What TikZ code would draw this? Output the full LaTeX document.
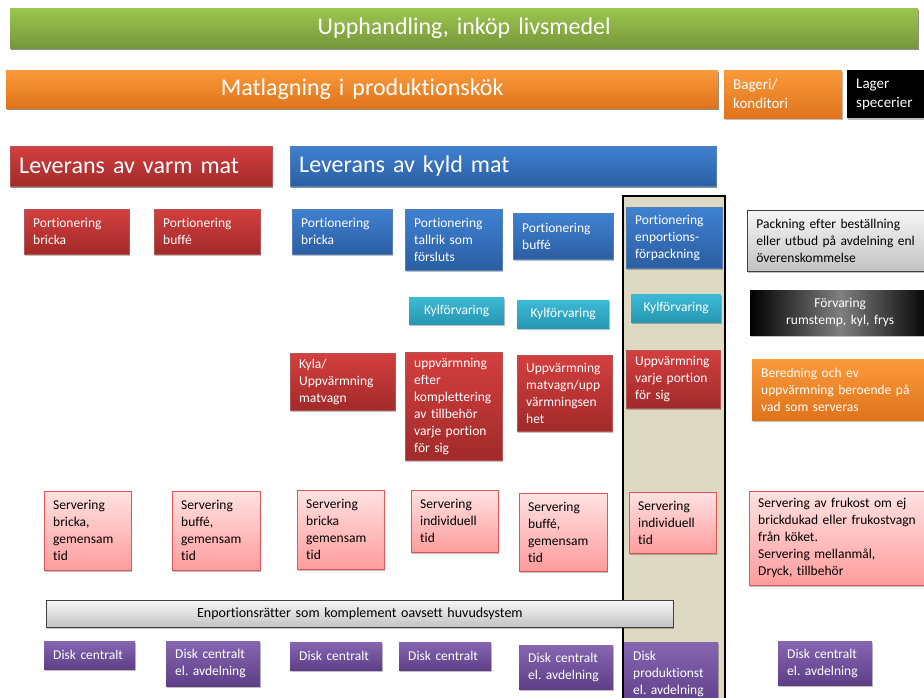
\documentclass[tikz,border=0pt]{standalone}
\usepackage{fontspec}
\setmainfont[Ligatures=NoCommon]{Carlito}
\frenchspacing
\usetikzlibrary{shadows}
\definecolor{greentop}{HTML}{9DC64E}
\definecolor{greenbot}{HTML}{76963A}
\definecolor{orangetop}{HTML}{FA9A3A}
\definecolor{orangebot}{HTML}{DF731C}
\definecolor{redtop}{HTML}{D43F3F}
\definecolor{redbot}{HTML}{A12A2A}
\definecolor{bluetop}{HTML}{3F81D2}
\definecolor{bluebot}{HTML}{2B5EA2}
\definecolor{cyantop}{HTML}{3DBAD6}
\definecolor{cyanbot}{HTML}{2797B2}
\definecolor{pinktop}{HTML}{FFE2E2}
\definecolor{pinkbot}{HTML}{FF9C9C}
\definecolor{pinkline}{HTML}{E05656}
\definecolor{purpletop}{HTML}{8666B0}
\definecolor{purplebot}{HTML}{5D3E87}
\definecolor{graytop}{HTML}{F6F6F6}
\definecolor{graybot}{HTML}{C2C2C2}
\definecolor{tan}{HTML}{DDD9C3}
\tikzset{
  font=\fontsize{13.5}{17}\selectfont,
  % Shadow under every box
  boxshadow/.style={drop shadow={shadow xshift=1pt, shadow yshift=-2pt,
      opacity=0.25, fill=black}},
  % General box, placed by its upper left corner
  box/.style={anchor=north west, inner xsep=9pt, inner ysep=1pt,
    align=left, text=white, boxshadow},
  % Wide header bars
  bar/.style={box, font=\fontsize{24}{28}\selectfont},
  % Colour variants
  greenbox/.style={box, top color=greentop, bottom color=greenbot},
  orangebox/.style={box, top color=orangetop, bottom color=orangebot},
  redbox/.style={box, top color=redtop, bottom color=redbot,
    draw=redbot!80!white, thin},
  bluebox/.style={box, top color=bluetop, bottom color=bluebot,
    draw=bluebot!80!white, thin},
  cyanbox/.style={box, top color=cyantop, bottom color=cyanbot, align=center},
  pinkbox/.style={box, top color=pinktop, bottom color=pinkbot,
    draw=pinkline, text=black},
  purplebox/.style={box, top color=purpletop, bottom color=purplebot},
  graybox/.style={box, top color=graytop, bottom color=graybot,
    draw=black!75, thick, text=black},
  blackbox/.style={box, left color=black, right color=black,
    middle color=black!50, align=center},
}

\begin{document}
\begin{tikzpicture}[x=1pt, y=-1pt]
  \useasboundingbox (0,0) rectangle (924,697);

  % column for enportions
  \draw[line width=2.5pt, fill=tan] (623,196) rectangle (725,720);

  % top bars
  \node[greenbox, bar, align=center, minimum width=908pt, minimum height=40pt,
    text width=890pt] (upphandling) at (10,8) {Upphandling, inköp livsmedel};
  \node[orangebox, bar, align=center, minimum width=712pt, minimum height=38pt,
    text width=694pt] (matlagning) at (6,70) {Matlagning i produktionskök};
  \node[orangebox, font=\fontsize{15}{19}\selectfont, minimum width=118pt,
    minimum height=48pt, text width=100pt] (bageri) at (724,70) {Bageri/\\konditori};
  \node[box, fill=black, font=\fontsize{15}{19}\selectfont, minimum width=90pt,
    minimum height=48pt, text width=72pt] (lager) at (847,70) {Lager\\specerier};

  \node[redbox, bar, minimum width=262pt, minimum height=40pt,
    text width=244pt] (varm) at (10,146) {Leverans av varm mat};
  \node[bluebox, bar, minimum width=426pt, minimum height=40pt,
    text width=408pt] (kyld) at (290,146) {Leverans av kyld mat};

  % portionering
  \node[redbox, minimum width=105pt, minimum height=45pt, text width=87pt]
    (pvbricka) at (24,209) {Portionering\\bricka};
  \node[redbox, minimum width=106pt, minimum height=45pt, text width=88pt]
    (pvbuffe) at (154,209) {Portionering\\buffé};
  \node[bluebox, minimum width=100pt, minimum height=45pt, text width=82pt]
    (pkbricka) at (292,209) {Portionering\\bricka};
  \node[bluebox, minimum width=97pt, minimum height=61pt, text width=79pt]
    (pktallrik) at (405,209) {Portionering\\tallrik som\\försluts};
  \node[bluebox, minimum width=100pt, minimum height=46pt, text width=82pt]
    (pkbuffe) at (513,213) {Portionering\\buffé};
  \node[bluebox, minimum width=96pt, minimum height=61pt, text width=78pt]
    (pkenport) at (626,207) {Portionering\\enportions-\\förpackning};
  \node[graybox, minimum width=190pt, minimum height=61pt, text width=172pt]
    (packning) at (747,210)
    {Packning efter beställning\\eller utbud på avdelning enl\\överenskommelse};

  % förvaring
  \node[cyanbox, minimum width=95pt, minimum height=27pt, text width=77pt]
    (kyl1) at (409,297) {Kylförvaring};
  \node[cyanbox, minimum width=92pt, minimum height=28pt, text width=74pt]
    (kyl2) at (517,300) {Kylförvaring};
  \node[cyanbox, minimum width=90pt, minimum height=28pt, text width=72pt]
    (kyl3) at (631,294) {Kylförvaring};
  \node[blackbox, minimum width=180pt, minimum height=45pt, text width=162pt]
    (forvaring) at (750,290) {Förvaring\\rumstemp, kyl, frys};

  % uppvärmning
  \node[redbox, minimum width=105pt, minimum height=57pt, text width=87pt]
    (kylavagn) at (290,353) {Kyla/\\Uppvärmning\\matvagn};
  \node[redbox, minimum width=97pt, minimum height=108pt, text width=79pt]
    (uppvkompl) at (405,352)
    {uppvärmning\\efter\\komplettering\\av tillbehör\\varje portion\\för sig};
  \node[redbox, minimum width=95pt, minimum height=76pt, text width=77pt]
    (uppvvagn) at (517,355) {Uppvärmning\\matvagn/upp\\värmningsen\\het};
  \node[redbox, minimum width=94pt, minimum height=58pt, text width=76pt]
    (uppvport) at (626,350) {Uppvärmning\\varje portion\\för sig};
  \node[orangebox, minimum width=185pt, minimum height=61pt, text width=167pt]
    (beredning) at (752,359)
    {Beredning och ev\\uppvärmning beroende på\\vad som serveras};

  % servering
  \node[pinkbox, minimum width=87pt, minimum height=79pt, text width=69pt]
    (sv1) at (44,491) {Servering\\bricka,\\gemensam\\tid};
  \node[pinkbox, minimum width=88pt, minimum height=79pt, text width=70pt]
    (sv2) at (172,491) {Servering\\buffé,\\gemensam\\tid};
  \node[pinkbox, minimum width=87pt, minimum height=79pt, text width=69pt]
    (sv3) at (297,490) {Servering\\bricka\\gemensam\\tid};
  \node[pinkbox, minimum width=87pt, minimum height=62pt, text width=69pt]
    (sv4) at (411,490) {Servering\\individuell\\tid};
  \node[pinkbox, minimum width=88pt, minimum height=78pt, text width=70pt]
    (sv5) at (519,493) {Servering\\buffé,\\gemensam\\tid};
  \node[pinkbox, minimum width=87pt, minimum height=61pt, text width=69pt]
    (sv6) at (629,492) {Servering\\individuell\\tid};
  \node[pinkbox, minimum width=185pt, minimum height=94pt, text width=167pt]
    (sv7) at (749,491) {Servering av frukost om ej\\brickdukad eller frukostvagn\\från köket.\\Servering mellanmål,\\Dryck, tillbehör};

  \node[graybox, font=\fontsize{14}{16}\selectfont, align=center,
    minimum width=627pt, minimum height=27pt, text width=609pt]
    (enport) at (46,600) {Enportionsrätter som komplement oavsett huvudsystem};

  % disk
  \node[purplebox, minimum width=91pt, minimum height=28pt, text width=73pt]
    (disk1) at (44,641) {Disk centralt};
  \node[purplebox, minimum width=94pt, minimum height=45pt, text width=76pt]
    (disk2) at (166,641) {Disk centralt\\el. avdelning};
  \node[purplebox, minimum width=92pt, minimum height=28pt, text width=74pt]
    (disk3) at (290,642) {Disk centralt};
  \node[purplebox, minimum width=92pt, minimum height=28pt, text width=74pt]
    (disk4) at (399,642) {Disk centralt};
  \node[purplebox, minimum width=94pt, minimum height=44pt, text width=76pt]
    (disk5) at (519,645) {Disk centralt\\el. avdelning};
  \node[purplebox, minimum width=94pt, minimum height=64pt, text width=76pt]
    (disk6) at (624,642) {Disk\\produktionst\\el. avdelning};
  \node[purplebox, minimum width=94pt, minimum height=44pt, text width=76pt]
    (disk7) at (778,641) {Disk centralt\\el. avdelning};
\end{tikzpicture}
\end{document}
